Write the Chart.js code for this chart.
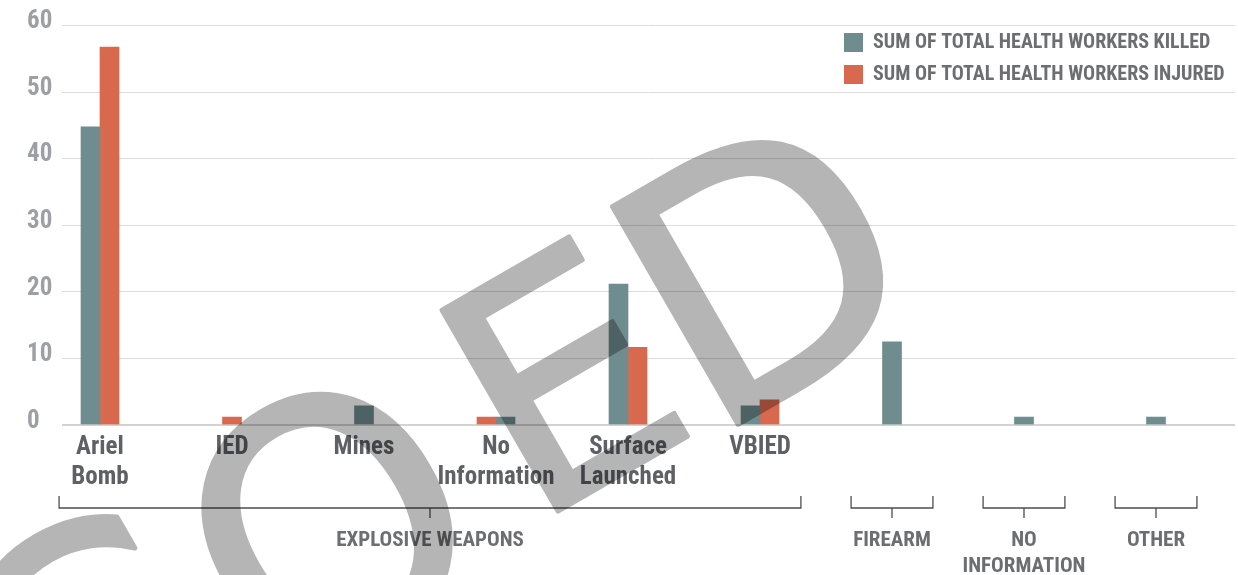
<!DOCTYPE html>
<html>
<head>
<meta charset="utf-8">
<title>Health workers killed and injured by weapon type</title>
<script src="https://cdn.jsdelivr.net/npm/chart.js@4.4.1/dist/chart.umd.min.js"></script>
<style>
  html, body { margin: 0; padding: 0; background: #fff; }
  canvas { display: block; }
</style>
</head>
<body>
<canvas id="chart" width="1238" height="575"></canvas>
<script>
// sub categories on the axis, explosive weapons first, then the single groups
const subLabels = [['Ariel', 'Bomb'], 'IED', 'Mines', ['No', 'Information'], ['Surface', 'Launched'], 'VBIED', '', '', '']
const groupLabels = [['EXPLOSIVE WEAPONS'], ['FIREARM'], ['NO', 'INFORMATION'], ['OTHER']]
const groupSizes = [6, 1, 1, 1]

const killed = [44.7, null, 2.8, 1.1, 21.1, 2.8, 12.4, 1.1, 1.1]
const injured = [56.7, 1.1, null, 1.1, 11.6, 3.7, null, null, null]
// at this category the injured bar is drawn before the killed one
const injuredFirst = [3]

const yMax = 60
const yStep = 10

const TEAL = '#6f8c8f'
const RED = '#d8694f'
const NARROW = '"Roboto Condensed", Roboto, sans-serif'

const injuredLead = injured.map((v, i) => injuredFirst.includes(i) ? v : null)
const injuredRest = injured.map((v, i) => injuredFirst.includes(i) ? null : v)

// horizontal grid, from just right of the tick labels to the edge
const gridLines = {
    id: 'gridLines',
    beforeDatasetsDraw(chart) {
        const { ctx, scales: { y } } = chart
        ctx.save()
        y.ticks.forEach(t => {
            const base = t.value === 0
            const py = Math.round(y.getPixelForValue(t.value)) + (base ? 0 : 0.5)
            ctx.beginPath()
            ctx.strokeStyle = base ? '#d2d2d2' : '#dcdcdc'
            ctx.lineWidth = base ? 2 : 1
            ctx.moveTo(62, py)
            ctx.lineTo(chart.width - 3, py)
            ctx.stroke()
        })
        ctx.restore()
    }
}

// brackets and names of the weapon groups under the axis
const groupBrackets = {
    id: 'groupBrackets',
    afterDraw(chart) {
        const { ctx, scales: { x } } = chart
        const step = x.width / subLabels.length
        const inset = step * 0.19
        ctx.save()
        ctx.strokeStyle = '#4d4d4f'
        ctx.lineWidth = 1.3
        ctx.fillStyle = '#6d6e72'
        ctx.font = 'bold 21px ' + NARROW
        ctx.textAlign = 'center'
        ctx.textBaseline = 'alphabetic'
        let start = 0
        groupSizes.forEach((n, g) => {
            const left = x.getPixelForValue(start) - step / 2 + inset
            const right = x.getPixelForValue(start + n - 1) + step / 2 - inset
            const mid = (left + right) / 2
            ctx.beginPath()
            ctx.moveTo(left, 496)
            ctx.lineTo(left, 508)
            ctx.lineTo(right, 508)
            ctx.lineTo(right, 496)
            ctx.moveTo(mid, 508)
            ctx.lineTo(mid, 518)
            ctx.stroke()
            groupLabels[g].forEach((line, k) => ctx.fillText(line, mid, 546 + k * 26))
            start += n
        })
        ctx.restore()
    }
}

// the big grey stamp lying over the chart
const stamp = {
    id: 'stamp',
    afterDraw(chart) {
        const { ctx } = chart
        const letters = [
            { ch: 'C', x: 82, y: 660, size: 345 },
            { ch: 'O', x: 327, y: 524, size: 345 },
            { ch: 'E', x: 560, y: 376, size: 318 },
            { ch: 'D', x: 761, y: 266, size: 345 }
        ]
        const off = document.createElement('canvas')
        off.width = chart.width
        off.height = chart.height
        const o = off.getContext('2d')
        o.fillStyle = '#000'
        o.strokeStyle = '#000'
        o.lineWidth = 5
        o.lineJoin = 'round'
        o.textAlign = 'center'
        o.textBaseline = 'alphabetic'
        letters.forEach(l => {
            o.save()
            o.font = l.size + 'px "DejaVu Sans"'
            o.translate(l.x, l.y)
            o.rotate(-Math.PI / 6)
            o.fillText(l.ch, 0, l.size * 0.729 / 2)
            o.strokeText(l.ch, 0, l.size * 0.729 / 2)
            o.restore()
        })
        ctx.save()
        ctx.globalAlpha = 0.29
        ctx.drawImage(off, 0, 0, chart.width, chart.height)
        ctx.restore()
    }
}

// put the legend in the top right corner of the plot
const legendCorner = {
    id: 'legendCorner',
    afterLayout(chart) {
        const lg = chart.legend
        lg.left = 832
        lg.right = lg.left + lg.width
        lg.top = 20.5
        lg.bottom = lg.top + lg.height
    }
}

const ctx = document.getElementById('chart')
const myChart = new Chart(ctx, {
    type: 'bar',
    data: {
        labels: subLabels,
        datasets: [
            { label: 'SUM OF TOTAL HEALTH WORKERS INJURED', data: injuredLead, backgroundColor: RED, hideInLegend: true },
            { label: 'SUM OF TOTAL HEALTH WORKERS KILLED', data: killed, backgroundColor: TEAL },
            { label: 'SUM OF TOTAL HEALTH WORKERS INJURED', data: injuredRest, backgroundColor: RED }
        ]
    },
    options: {
        responsive: false,
        animation: false,
        events: [],
        layout: { padding: { top: 25, right: 16, left: 0, bottom: 0 } },
        datasets: {
            bar: { barThickness: 19, skipNull: true, borderWidth: 0 }
        },
        plugins: {
            tooltip: { enabled: false },
            legend: {
                position: 'chartArea',
                align: 'start',
                labels: {
                    boxWidth: 19,
                    boxHeight: 19,
                    padding: 12,
                    color: '#6d6e72',
                    font: { family: NARROW, size: 20, weight: 'bold' },
                    filter: (item, data) => !data.datasets[item.datasetIndex].hideInLegend
                }
            }
        },
        scales: {
            x: {
                grid: { display: false, drawTicks: false },
                border: { display: false },
                ticks: {
                    autoSkip: false,
                    maxRotation: 0,
                    padding: 8,
                    color: '#5e6065',
                    font: { family: NARROW, size: 25, weight: 'bold', lineHeight: 1.2 }
                },
                afterFit: s => { s.height = 150.5 }
            },
            y: {
                min: 0,
                max: yMax,
                grid: { display: false, drawTicks: false },
                border: { display: false },
                ticks: {
                    stepSize: yStep,
                    mirror: true,
                    padding: -7,
                    labelOffset: -3,
                    color: '#9c9fa4',
                    font: { family: NARROW, size: 25, weight: 'bold' }
                },
                afterFit: s => { s.width = 34 }
            }
        }
    },
    plugins: [gridLines, groupBrackets, stamp, legendCorner]
})
</script>
</body>
</html>
